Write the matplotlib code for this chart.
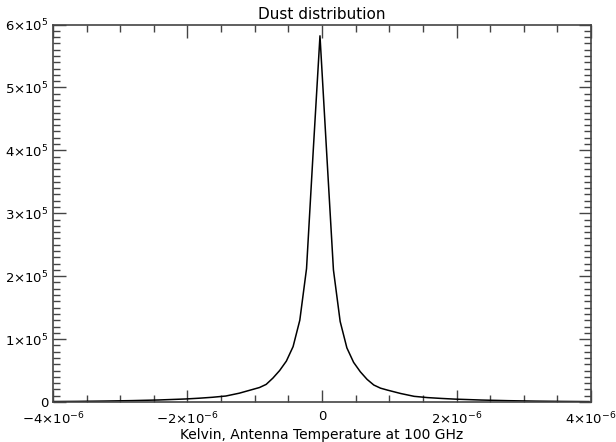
import matplotlib
matplotlib.use("Agg")
import matplotlib.pyplot as plt
from matplotlib.ticker import MultipleLocator, FuncFormatter

# Data (x in Kelvin, counts)
temperature = [-4.03e-6, -3.63e-6, -3.23e-6, -2.83e-6, -2.43e-6, -2.03e-6, -1.83e-6, -1.63e-6,
               -1.43e-6, -1.23e-6, -1.03e-6, -0.93e-6, -0.83e-6, -0.73e-6, -0.63e-6, -0.53e-6,
               -0.43e-6, -0.33e-6, -0.23e-6, -0.13e-6, -0.03e-6, 0.07e-6, 0.17e-6, 0.27e-6,
               0.37e-6, 0.47e-6, 0.57e-6, 0.67e-6, 0.77e-6, 0.87e-6, 0.97e-6, 1.17e-6,
               1.37e-6, 1.57e-6, 1.77e-6, 1.97e-6, 2.37e-6, 2.77e-6, 3.17e-6, 3.57e-6, 3.97e-6]
counts = [700, 1000, 1500, 2200, 3200, 4800, 6000, 7500,
          9500, 14000, 20000, 23000, 28000, 38000, 50000, 65000,
          88000, 130000, 212000, 400000, 582000, 395000, 210000, 128000,
          86000, 63000, 48000, 36000, 27000, 22000, 19000, 13500,
          9000, 7000, 5700, 4600, 3100, 2100, 1400, 950, 650]

title = "Dust distribution"
xlabel = "Kelvin, Antenna Temperature at 100 GHz"

fig = plt.figure(figsize=(6.16, 4.42), dpi=100)
ax = fig.add_axes([53/616, 1-402/442, (591-53)/616, (402-24.5)/442])
ax.plot(temperature, counts, color='black', lw=1.1)

ax.set_xlim(-4e-6, 4e-6)
ax.set_ylim(0, 6e5)

def xfmt(v, pos):
    if abs(v) < 1e-12:
        return '0'
    m = v / 1e-6
    return r'$%s%d{\times}10^{-6}$' % ('-' if m < 0 else '', abs(round(m)))

def yfmt(v, pos):
    if abs(v) < 1e-6:
        return '0'
    return r'$%d{\times}10^{5}$' % round(v / 1e5)

ax.xaxis.set_major_locator(MultipleLocator(2e-6))
ax.xaxis.set_minor_locator(MultipleLocator(0.5e-6))
ax.yaxis.set_major_locator(MultipleLocator(1e5))
ax.yaxis.set_minor_locator(MultipleLocator(1e4))
ax.xaxis.set_major_formatter(FuncFormatter(xfmt))
ax.yaxis.set_major_formatter(FuncFormatter(yfmt))

ax.tick_params(which='both', direction='in', top=True, right=True, color='#444', labelsize=9.5)
ax.tick_params(which='major', length=9, width=1)
ax.tick_params(which='minor', length=5, width=1)
ax.tick_params(axis='x', pad=6)
ax.tick_params(axis='y', pad=3)
for s in ax.spines.values():
    s.set_color('#444')
    s.set_linewidth(1.2)

ax.set_title(title, fontsize=11, pad=4)
ax.set_xlabel(xlabel, fontsize=10, labelpad=1)

fig.savefig('out.png', dpi=100)
